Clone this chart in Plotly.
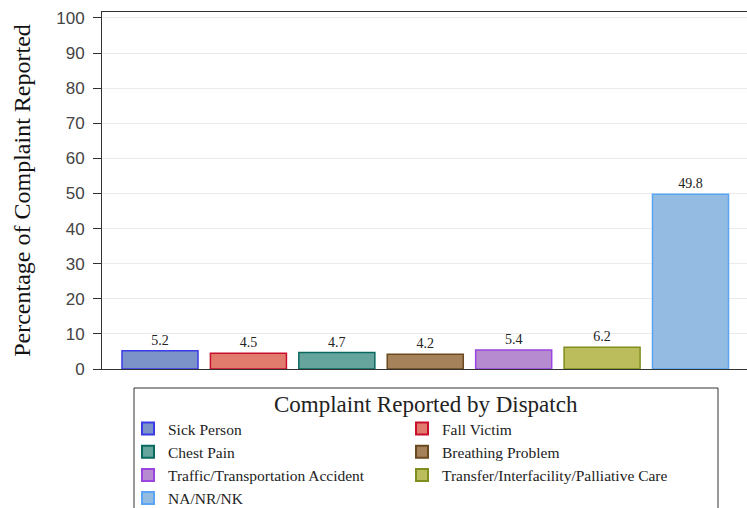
import plotly.graph_objects as go

categories = ["Sick Person", "Fall Victim", "Chest Pain", "Breathing Problem",
              "Traffic/Transportation Accident", "Transfer/Interfacility/Palliative Care",
              "NA/NR/NK"]
values = [5.2, 4.5, 4.7, 4.2, 5.4, 6.2, 49.8]
fills = ["#7b93c9", "#e07b6e", "#66a59e", "#a6825a", "#b68bd0", "#bbbd5c", "#94bbe2"]
borders = ["#3b3be8", "#c8102e", "#0b6a60", "#6b4a20", "#9b45e0", "#7f8e1f", "#5aa5f5"]
yticks = [0, 10, 20, 30, 40, 50, 60, 70, 80, 90, 100]
legend_title = "Complaint Reported by Dispatch"

W, H = 747, 508
L, R, T, B = 102, 0, 12, 139
pw, ph = W - L - R, H - T - B


def px_x(p):
    return (p - L) / pw


def px_y(p):
    return (H - B - p) / ph


fig = go.Figure()
for i, (c, v) in enumerate(zip(categories, values)):
    fig.add_trace(go.Bar(
        x=[c], y=[v], name=c, width=0.86,
        marker=dict(color=fills[i], line=dict(color=borders[i], width=1.5)),
        text=[f"{v:.1f}"], textposition="outside", cliponaxis=False,
        textfont=dict(family="Liberation Serif", size=14, color="#222"),
    ))

# legend frame and title
fig.add_shape(type="rect", xref="paper", yref="paper",
              x0=px_x(134), x1=px_x(718), y0=px_y(388), y1=px_y(560),
              line=dict(color="#333", width=1), fillcolor="rgba(0,0,0,0)")
fig.add_annotation(text=legend_title, xref="paper", yref="paper",
                   x=px_x(426), y=px_y(404), xanchor="center", yanchor="middle",
                   showarrow=False,
                   font=dict(family="Liberation Serif", size=23, color="#222"))

fig.update_layout(
    width=W, height=H,
    margin=dict(l=L, r=R, t=T, b=B, autoexpand=False),
    plot_bgcolor="white", paper_bgcolor="white",
    barmode="overlay",
    showlegend=True,
    legend=dict(
        orientation="h", x=px_x(128), xanchor="left", y=px_y(412), yanchor="top",
        entrywidth=229, entrywidthmode="pixels",
        font=dict(family="Liberation Serif", size=15.5, color="#222"),
        bgcolor="rgba(0,0,0,0)", borderwidth=0, tracegroupgap=0,
        itemsizing="constant",
    ),
    xaxis=dict(
        categoryorder="array", categoryarray=categories,
        range=[-0.656, 6.639], showticklabels=False, ticks="",
        showline=True, linecolor="#333", linewidth=1, mirror=True,
        showgrid=False, zeroline=False,
    ),
    yaxis=dict(
        range=[0, 101.7], tickvals=yticks, ticks="outside", ticklen=8,
        tickcolor="#333", showline=True, linecolor="#333", linewidth=1,
        showgrid=True, gridcolor="#ebebeb", gridwidth=1, zeroline=False,
        ticklabelstandoff=5,
        tickfont=dict(family="Liberation Sans", size=17, color="#444"),
        title=dict(text="Percentage of Complaint Reported",
                   font=dict(family="Liberation Serif", size=24, color="#111"),
                   standoff=18),
    ),
)

fig.write_html("out.html", config={"displayModeBar": False},
               post_script="document.body.style.margin='0';")
